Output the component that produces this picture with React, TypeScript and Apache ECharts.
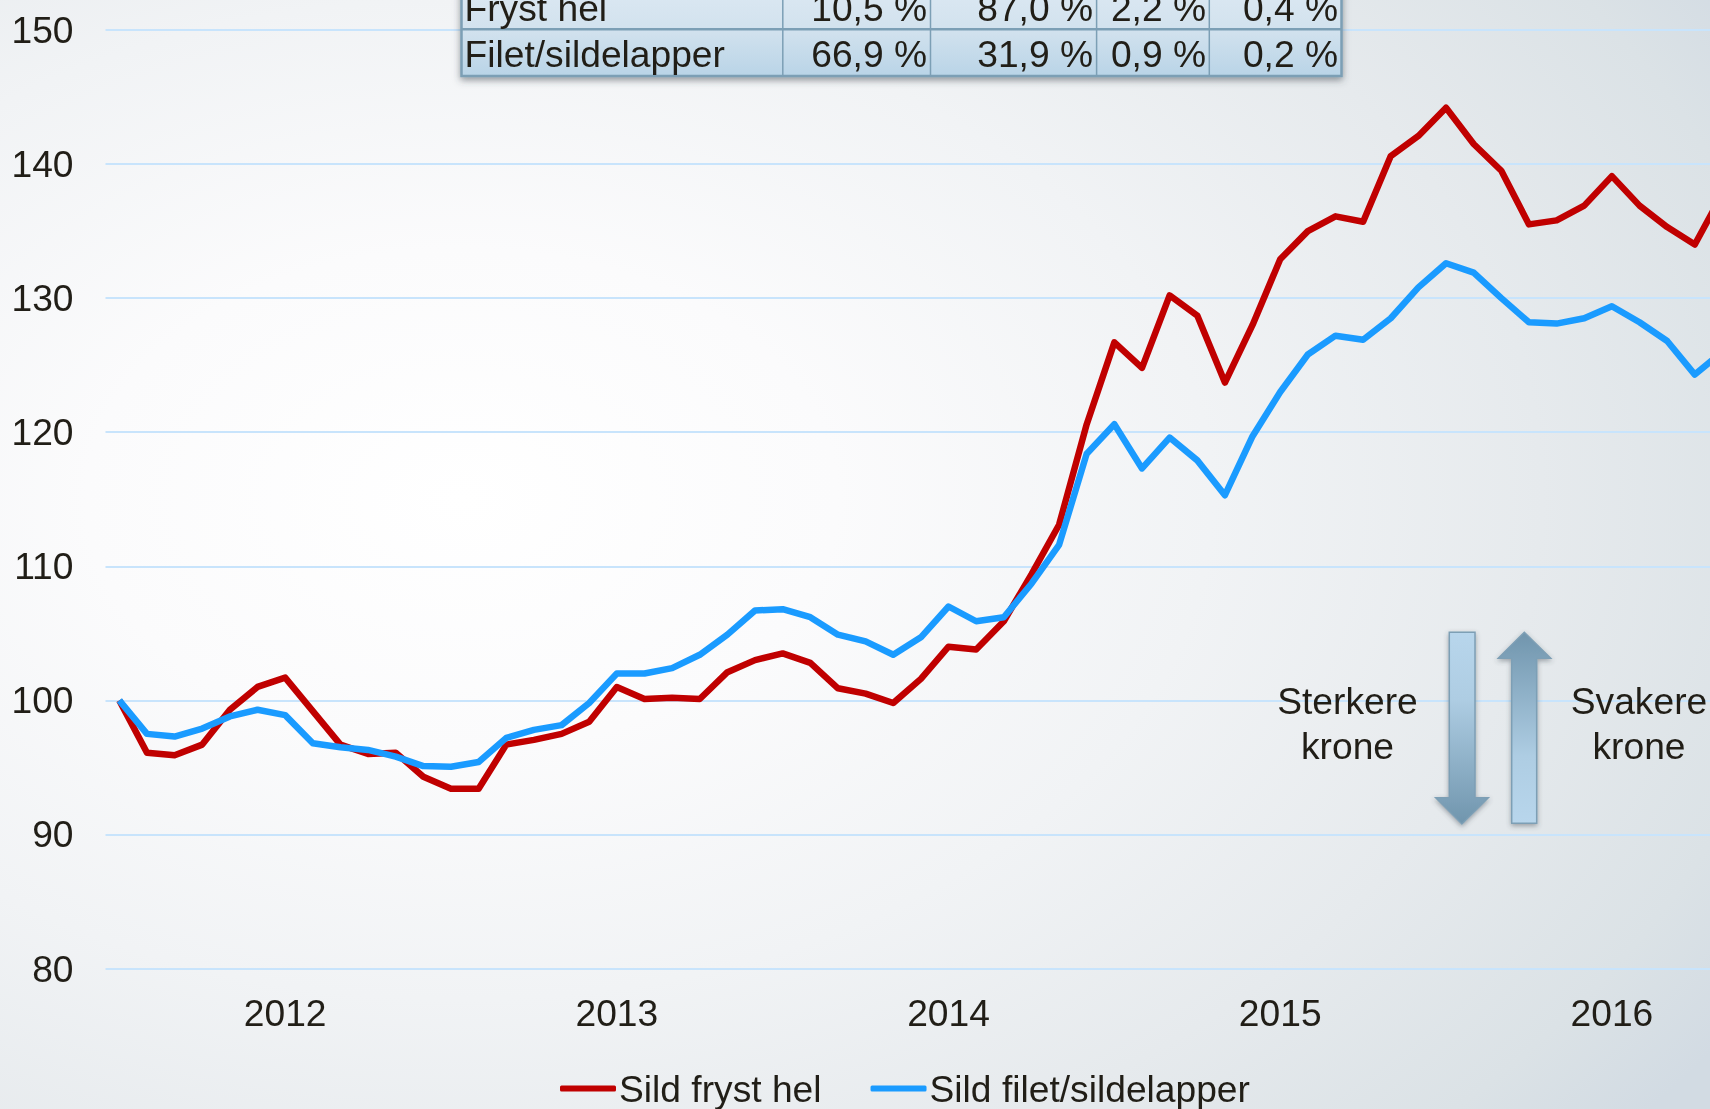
import React, { useEffect, useRef } from "react";
import * as echarts from "echarts";

const firstYear = 2011;
const firstMonth = 6; // zero-based: July
const redName = "Sild fryst hel";
const blueName = "Sild filet/sildelapper";
const redValues = [100, 96.1, 95.9, 96.7, 99.3, 101.0, 101.7, 99.2, 96.7, 96.0, 96.1, 94.3, 93.4, 93.4, 96.7, 97.05, 97.5, 98.4, 101.0, 100.1, 100.2, 100.1, 102.1, 103.0, 103.5, 102.8, 100.9, 100.5, 99.8, 101.6, 104.0, 103.8, 105.9, 109.4, 113.1, 120.6, 126.7, 124.8, 130.2, 128.7, 123.7, 128.0, 132.9, 135.0, 136.1, 135.7, 140.6, 142.1, 144.2, 141.5, 139.5, 135.5, 135.8, 136.9, 139.1, 136.9, 135.3, 134.0, 137.8];
const blueValues = [100, 97.5, 97.3, 97.9, 98.8, 99.3, 98.9, 96.8, 96.5, 96.3, 95.8, 95.1, 95.05, 95.4, 97.2, 97.8, 98.15, 99.8, 102.0, 102.0, 102.4, 103.4, 104.9, 106.7, 106.8, 106.2, 104.9, 104.4, 103.4, 104.7, 107.0, 105.9, 106.2, 108.7, 111.6, 118.4, 120.6, 117.3, 119.6, 117.9, 115.3, 119.7, 123.0, 125.8, 127.2, 126.9, 128.5, 130.8, 132.6, 131.9, 130.0, 128.2, 128.1, 128.5, 129.4, 128.2, 126.8, 124.3, 126.0];
const categories = redValues.map((_, i) => {
  const m = firstMonth + i;
  return `${firstYear + Math.floor(m / 12)}-${String((m % 12) + 1).padStart(2, "0")}`;
});
const tableRows = [
  ["Fryst hel", "10,5 %", "87,0 %", "2,2 %", "0,4 %"],
  ["Filet/sildelapper", "66,9 %", "31,9 %", "0,9 %", "0,2 %"],
];

const FONT = '"Liberation Sans", Arial, sans-serif';
const TEXT = "#211e17";
const FS = 37.2;
const fontStr = `${FS}px ${FONT}`;
const grad = (stops: [number, string][]) => ({
  type: "linear", x: 0, y: 0, x2: 0, y2: 1,
  colorStops: stops.map(([offset, color]) => ({ offset, color })),
});
const label = (text: string, x: number, baseline: number, align: string) => ({
  type: "text",
  z: 100,
  style: { text, x, y: baseline - 12.5, font: fontStr, fill: TEXT, align, verticalAlign: "middle" },
});

function tableGraphics() {
  const colLines = [782.8, 930.5, 1096.6, 1209.3];
  const colEnds = [927, 1093, 1206, 1338];
  const top = -17.4, rowH = 46.7, left = 461.5, right = 1341.5, bottom = 76;
  const stroke = "#7c9fb5";
  const els: any[] = [
    {
      type: "rect",
      z: 100,
      shape: { x: left, y: top, width: right - left, height: bottom - top },
      style: {
        fill: grad([[0, "#dde9f3"], [0.5, "#d2e2ee"], [1, "#b9d4e7"]]),
        stroke, lineWidth: 2.5,
        shadowBlur: 7, shadowColor: "rgba(60,70,80,0.55)", shadowOffsetX: 0, shadowOffsetY: 3,
      },
    },
    { type: "line", z: 100, shape: { x1: left, y1: top + rowH, x2: right, y2: top + rowH }, style: { stroke, lineWidth: 2.5 } },
  ];
  colLines.forEach((x) =>
    els.push({ type: "line", z: 100, shape: { x1: x, y1: top, x2: x, y2: bottom }, style: { stroke, lineWidth: 1.5 } })
  );
  tableRows.forEach((row, r) => {
    const baseline = 20.7 + r * 46;
    els.push(label(row[0], 464.5, baseline, "left"));
    row.slice(1).forEach((cell, c) => els.push(label(cell, colEnds[c], baseline, "right")));
  });
  return els;
}

function arrowGraphics() {
  const stroke = "#7d9fb5";
  const shadow = { shadowBlur: 5, shadowColor: "rgba(60,70,80,0.45)", shadowOffsetX: 0, shadowOffsetY: 2 };
  return [
    {
      type: "polygon",
      z: 100,
      shape: { points: [[1449.3, 632.3], [1475, 632.3], [1475, 797.7], [1488.3, 797.7], [1461.9, 824], [1435.7, 797.7], [1449.3, 797.7]] },
      style: { fill: grad([[0, "#b8d6ec"], [0.35, "#aecde3"], [1, "#7095ad"]]), stroke, lineWidth: 1.5, ...shadow },
    },
    {
      type: "polygon",
      z: 100,
      shape: { points: [[1524.3, 632.3], [1550.7, 658.3], [1536.7, 658.3], [1536.7, 823.3], [1511.7, 823.3], [1511.7, 658.3], [1498.3, 658.3]] },
      style: { fill: grad([[0, "#7095ad"], [0.65, "#aecde3"], [1, "#b8d6ec"]]), stroke, lineWidth: 1.5, ...shadow },
    },
    label("Sterkere", 1347.5, 713.3, "center"),
    label("krone", 1347.5, 758.3, "center"),
    label("Svakere", 1639, 713.3, "center"),
    label("krone", 1639, 758.3, "center"),
  ];
}

export default function App() {
  const ref = useRef<HTMLDivElement>(null);
  useEffect(() => {
    const chart = echarts.init(ref.current!, undefined, { renderer: "svg" });
    const isJanuary = (v: string) => v.endsWith("-01");
    chart.setOption({
      animation: false,
      backgroundColor: "transparent",
      textStyle: { fontFamily: FONT },
      grid: { left: 105.5, top: 30, width: 59 * 27.64, height: 938.5, containLabel: false },
      xAxis: {
        type: "category",
        data: categories,
        boundaryGap: true,
        axisLine: { show: false },
        axisTick: { show: false },
        axisLabel: {
          interval: (_: number, v: string) => isJanuary(v),
          formatter: (v: string) => v.slice(0, 4),
          color: TEXT, fontSize: FS, fontFamily: FONT, margin: 26, hideOverlap: false,
        },
      },
      yAxis: {
        type: "value",
        min: 80,
        max: 150,
        interval: 10,
        axisLine: { show: false },
        axisTick: { show: false },
        axisLabel: { color: TEXT, fontSize: FS, fontFamily: FONT, margin: 32 },
        splitLine: { lineStyle: { color: "#c8e4fc", width: 2 } },
      },
      legend: {
        left: 560,
        top: 1070,
        padding: 0,
        itemWidth: 56,
        itemHeight: 6,
        itemGap: 49,
        selectedMode: false,
        textStyle: { color: TEXT, fontSize: FS, fontFamily: FONT, padding: [0, 0, 0, -2] },
        data: [
          { name: redName, icon: "roundRect" },
          { name: blueName, icon: "roundRect" },
        ],
      },
      series: [
        { name: redName, type: "line", data: redValues, symbol: "none", color: "#c00000", lineStyle: { width: 6.5, color: "#c00000", join: "round" } },
        { name: blueName, type: "line", data: blueValues, symbol: "none", color: "#1a9bff", lineStyle: { width: 6.5, color: "#1a9bff", join: "round" } },
      ],
      graphic: { elements: [...tableGraphics(), ...arrowGraphics()] },
    });
    return () => chart.dispose();
  }, []);
  return (
    <div
      style={{
        position: "fixed", left: 0, top: 0, width: 1710, height: 1109, overflow: "hidden",
        background:
          "radial-gradient(ellipse 1500px 1000px at 27% 45%, #ffffff 0%, #fbfbfc 25%, #f1f3f5 50%, #e6eaed 72%, #dbe2e6 90%, #d2dbe3 100%)",
      }}
    >
      <div ref={ref} style={{ width: 1800, height: 1109 }} />
    </div>
  );
}
